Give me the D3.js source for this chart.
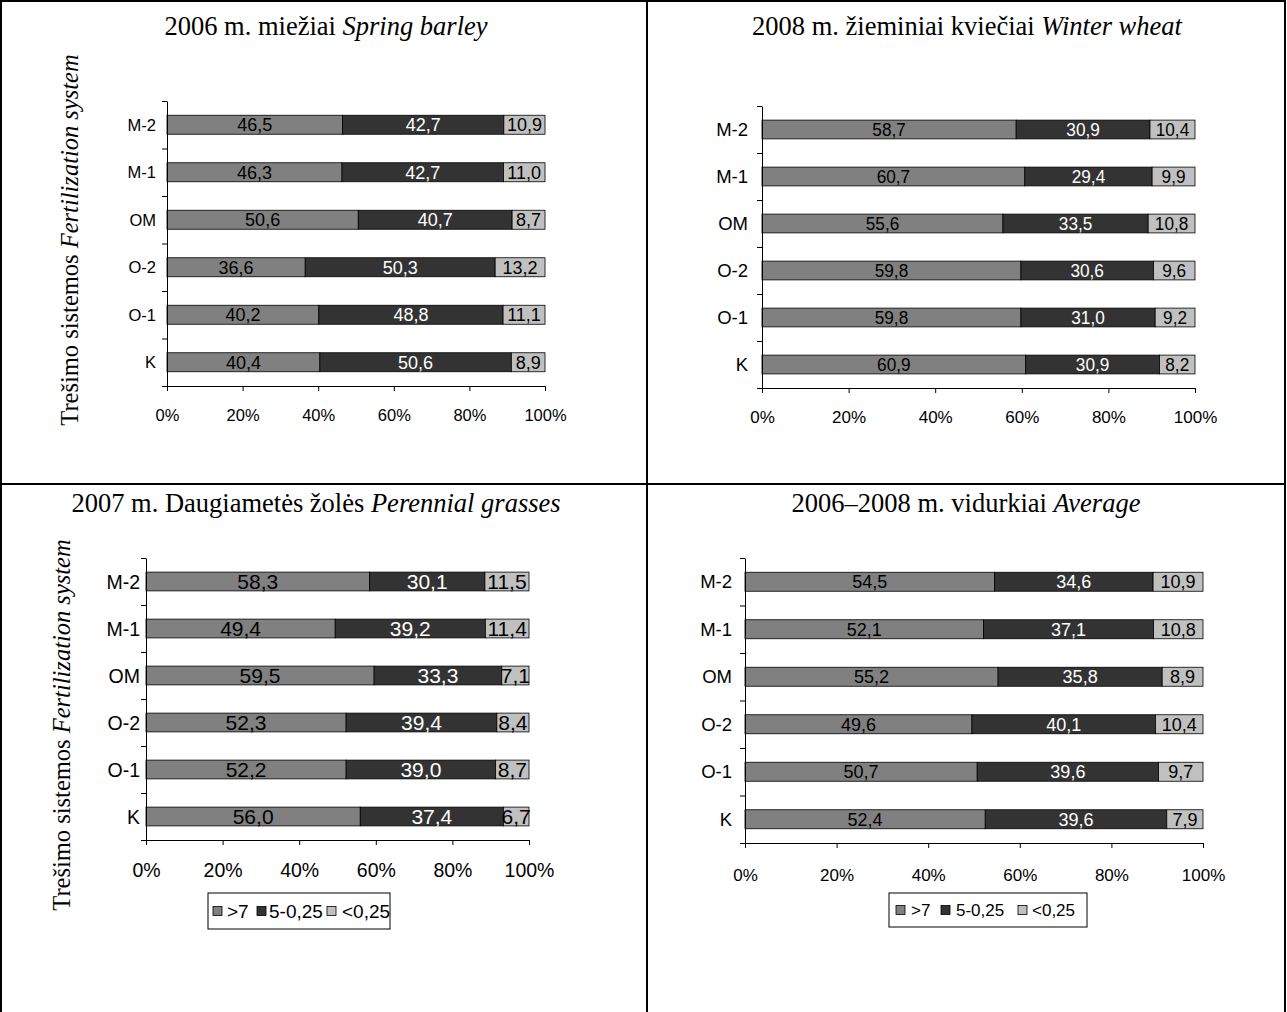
<!DOCTYPE html>
<html><head><meta charset="utf-8">
<script src="https://cdn.jsdelivr.net/npm/d3@7"></script>
<style>body{margin:0;background:#fff}svg{display:block}</style>
</head><body>
<script>
const categories = ["M-2","M-1","OM","O-2","O-1","K"];
const seriesNames = [">7","5-0,25","<0,25"];
const tickLabels = ["0%","20%","40%","60%","80%","100%"];

const barleyGt7 = [46.5,46.3,50.6,36.6,40.2,40.4];
const barleyMid = [42.7,42.7,40.7,50.3,48.8,50.6];
const barleyLt  = [10.9,11.0,8.7,13.2,11.1,8.9];

const wheatGt7 = [58.7,60.7,55.6,59.8,59.8,60.9];
const wheatMid = [30.9,29.4,33.5,30.6,31.0,30.9];
const wheatLt  = [10.4,9.9,10.8,9.6,9.2,8.2];

const grassGt7 = [58.3,49.4,59.5,52.3,52.2,56.0];
const grassMid = [30.1,39.2,33.3,39.4,39.0,37.4];
const grassLt  = [11.5,11.4,7.1,8.4,8.7,6.7];

const avgGt7 = [54.5,52.1,55.2,49.6,50.7,52.4];
const avgMid = [34.6,37.1,35.8,40.1,39.6,39.6];
const avgLt  = [10.9,10.8,8.9,10.4,9.7,7.9];

const W = 1287, H = 1012;
const colors = ["#808080","#333333","#c0c0c0"];
const textColors = ["#000","#fff","#000"];

const svg = d3.select("body").append("svg").attr("width",W).attr("height",H);

svg.append("rect").attr("x",1).attr("y",1).attr("width",1284).attr("height",1014)
  .attr("fill","none").attr("stroke","#000").attr("stroke-width",2);
svg.append("line").attr("x1",647).attr("x2",647).attr("y1",0).attr("y2",H).attr("stroke","#000").attr("stroke-width",2);
svg.append("line").attr("x1",0).attr("x2",1286).attr("y1",484).attr("y2",484).attr("stroke","#000").attr("stroke-width",2);

function title(g, cx, y, plain, ital){
  const t = g.append("text").attr("x",cx).attr("y",y).attr("text-anchor","middle")
    .attr("font-family","'Liberation Serif','Times New Roman',serif").attr("font-size",26.5);
  t.append("tspan").text(plain);
  t.append("tspan").attr("font-style","italic").text(ital);
}
function ylabel(g, x, cy){
  const t = g.append("text").attr("transform",`translate(${x},${cy}) rotate(-90)`)
    .attr("text-anchor","middle")
    .attr("font-family","'Liberation Serif','Times New Roman',serif").attr("font-size",24.5);
  t.append("tspan").text("Trešimo sistemos ");
  t.append("tspan").attr("font-style","italic").text("Fertilization system");
}

function panel(cfg){
  const g = svg.append("g");
  const x = d3.scaleLinear().domain([0,1]).range([cfg.x0,cfg.x1]);
  const yb = d3.scaleBand().domain(categories).range([cfg.y0,cfg.y1]).paddingInner(0.6).paddingOuter(0.3);
  const yl = d3.scaleLinear().domain([0,6]).range([cfg.y0,cfg.y1]);
  const font = "'Liberation Sans',Arial,sans-serif";

  categories.forEach((c,i)=>{
    const vals = [cfg.s[0][i],cfg.s[1][i],cfg.s[2][i]];
    const sum = d3.sum(vals);
    let acc = 0;
    vals.forEach((v,k)=>{
      const a = acc/sum, b = (acc+v)/sum; acc += v;
      g.append("rect").attr("x",x(a)).attr("y",yb(c)).attr("width",x(b)-x(a)).attr("height",yb.bandwidth())
        .attr("fill",colors[k]).attr("stroke","#000").attr("stroke-width",0.8);
      const cx = (x(a)+x(b))/2;
      g.append("text").attr("x",cx).attr("y",yb(c)+yb.bandwidth()/2)
        .attr("dy","0.36em").attr("text-anchor","middle")
        .attr("font-family",font).attr("font-size",cfg.vfs).attr("fill",textColors[k])
        .attr("transform", cfg.condense ? `translate(${cx},0) scale(${cfg.condense},1) translate(${-cx},0)` : null)
        .text(d3.format(".1f")(v).replace(".",","));
    });
  });

  const ya = g.append("g").attr("transform",`translate(${cfg.x0},0)`)
    .call(d3.axisLeft(yl).tickValues([0,1,2,3,4,5,6]).tickSize(5).tickSizeOuter(0).tickFormat(""));
  ya.selectAll("path,line").attr("stroke","#000");
  categories.forEach(c=>{
    g.append("text").attr("x",cfg.x0-cfg.lgap).attr("y",yb(c)+yb.bandwidth()/2).attr("dy","0.36em")
      .attr("text-anchor","end").attr("font-family",font).attr("font-size",cfg.cfs).text(c);
  });
  const xa = g.append("g").attr("transform",`translate(0,${cfg.y1})`)
    .call(d3.axisBottom(x).tickValues([0,0.2,0.4,0.6,0.8,1]).tickSize(5).tickSizeOuter(0)
      .tickFormat((d,i)=>tickLabels[i]));
  xa.selectAll("path,line").attr("stroke","#000");
  xa.selectAll("text").attr("font-family",font).attr("font-size",cfg.tfs).attr("fill","#000")
    .attr("dy",null).attr("y",cfg.tly);

  if(cfg.legend){
    const L = cfg.legend;
    g.append("rect").attr("x",L.x).attr("y",L.y).attr("width",L.w).attr("height",L.h)
      .attr("fill","#fff").attr("stroke","#000").attr("stroke-width",1);
    seriesNames.forEach((n,k)=>{
      g.append("rect").attr("x",L.sq[k]).attr("y",L.y+L.h/2-4.5).attr("width",9).attr("height",9)
        .attr("fill",colors[k]).attr("stroke","#000").attr("stroke-width",0.8);
      g.append("text").attr("x",L.tx[k]).attr("y",L.y+L.h/2).attr("dy","0.36em")
        .attr("font-family",font).attr("font-size",L.fs).text(n);
    });
  }
}

title(svg,326,35,"2006 m. miežiai ","Spring barley");
title(svg,967,35,"2008 m. žieminiai kviečiai ","Winter wheat");
title(svg,316,512,"2007 m. Daugiametės žolės ","Perennial grasses");
title(svg,966,512,"2006–2008 m. vidurkiai ","Average");
ylabel(svg,78,240);
ylabel(svg,70,725);

panel({x0:167,x1:545,y0:101,y1:386,s:[barleyGt7,barleyMid,barleyLt],vfs:18,cfs:16.5,tfs:16.5,tly:35,lgap:11});
panel({x0:762,x1:1195,y0:106,y1:388,s:[wheatGt7,wheatMid,wheatLt],vfs:18.5,cfs:18.5,tfs:17,tly:35,lgap:14,condense:0.93});
panel({x0:146,x1:529,y0:558,y1:840,s:[grassGt7,grassMid,grassLt],vfs:21,cfs:19.5,tfs:19.5,tly:37,lgap:6,
  legend:{x:208,y:893,w:182,h:36,fs:19,sq:[213,257,327],tx:[227,269,342]}});
panel({x0:745,x1:1203,y0:558,y1:843,s:[avgGt7,avgMid,avgLt],vfs:18,cfs:18.5,tfs:17,tly:38,lgap:13,
  legend:{x:889,y:893,w:198,h:34,fs:17,sq:[896,941,1018],tx:[911,956,1032]}});
</script>
</body></html>
